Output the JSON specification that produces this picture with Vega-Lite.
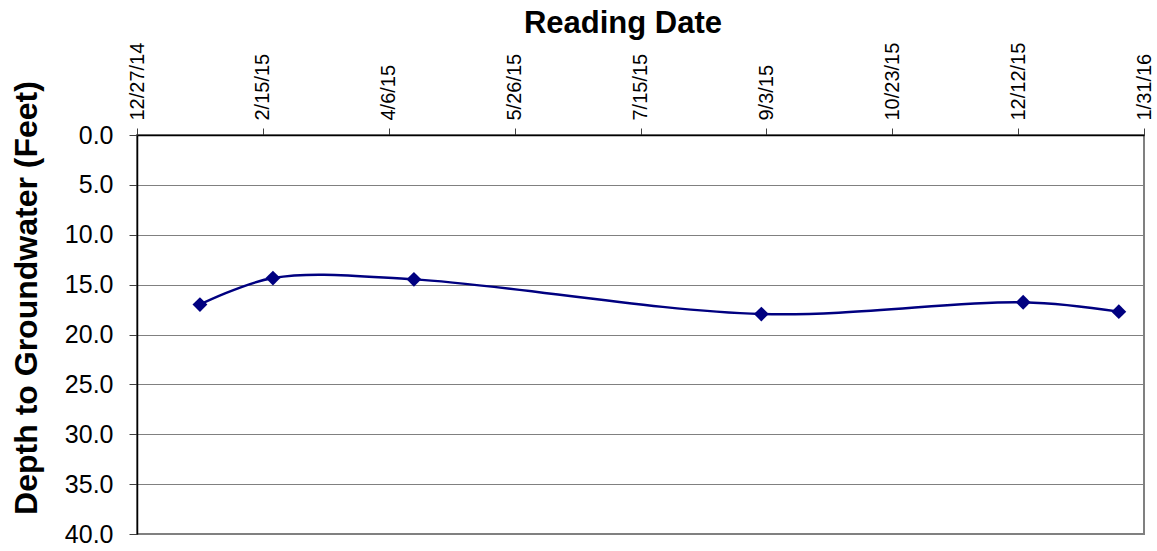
{
  "$schema": "https://vega.github.io/schema/vega-lite/v6.json",
  "width": 1007,
  "height": 399,
  "autosize": {"type": "none"},
  "padding": {"left": 137, "top": 135, "right": 13, "bottom": 17},
  "background": "white",
  "config": {
    "font": "Liberation Sans",
    "view": {"stroke": "#808080", "strokeWidth": 2},
    "axis": {"labelFont": "Liberation Sans", "titleFont": "Liberation Sans", "labelColor": "black", "titleColor": "black"}
  },
  "data": {
    "values": [
      {"date": "2015/01/21", "depth": 17.0},
      {"date": "2015/02/19", "depth": 14.34},
      {"date": "2015/04/16", "depth": 14.47},
      {"date": "2015/09/01", "depth": 17.95},
      {"date": "2015/12/14", "depth": 16.77},
      {"date": "2016/01/21", "depth": 17.71}
    ]
  },
  "encoding": {
    "x": {
      "field": "date",
      "type": "temporal",
      "scale": {"domain": [{"year": 2014, "month": 12, "date": 27}, {"year": 2016, "month": 1, "date": 31}], "nice": false},
      "axis": {
        "orient": "top",
        "title": "Reading Date",
        "titleFontSize": 31,
        "titleFontWeight": "bold",
        "titleX": 485.5,
        "titleY": -102.5,
        "titleAlign": "center",
        "titleAnchor": null,
        "titleBaseline": "alphabetic",
        "values": [
          {"year": 2014, "month": 12, "date": 27},
          {"year": 2015, "month": 2, "date": 15},
          {"year": 2015, "month": 4, "date": 6},
          {"year": 2015, "month": 5, "date": 26},
          {"year": 2015, "month": 7, "date": 15},
          {"year": 2015, "month": 9, "date": 3},
          {"year": 2015, "month": 10, "date": 23},
          {"year": 2015, "month": 12, "date": 12},
          {"year": 2016, "month": 1, "date": 31}
        ],
        "format": "%-m/%-d/%y",
        "labelAngle": -90,
        "labelFontSize": 20,
        "labelPadding": 8,
        "labelOverlap": false,
        "labelFlush": false,
        "tickSize": 7,
        "tickColor": "#404040",
        "tickWidth": 1,
        "domainColor": "black",
        "domainWidth": 1.5,
        "grid": false
      }
    },
    "y": {
      "field": "depth",
      "type": "quantitative",
      "scale": {"domain": [0, 40], "reverse": true, "nice": false, "zero": false},
      "axis": {
        "title": "Depth to Groundwater (Feet)",
        "titleFontSize": 32,
        "titleFontWeight": "bold",
        "titleAngle": -90,
        "titleX": -100.3,
        "titleY": 162.5,
        "titleAlign": "center",
        "titleAnchor": null,
        "titleBaseline": "alphabetic",
        "values": [0, 5, 10, 15, 20, 25, 30, 35, 40],
        "format": ".1f",
        "labelFontSize": 25,
        "labelPadding": 16,
        "labelFlush": false,
        "labelOverlap": false,
        "tickSize": 8,
        "tickColor": "#404040",
        "tickWidth": 1,
        "domainColor": "black",
        "domainWidth": 1.5,
        "grid": true,
        "gridColor": "#808080",
        "gridWidth": 1
      }
    }
  },
  "layer": [
    {"mark": {"type": "line", "interpolate": "catmull-rom", "color": "#000080", "strokeWidth": 2.4}},
    {"mark": {"type": "point", "shape": "diamond", "filled": true, "size": 220, "color": "#000080", "opacity": 1}}
  ]
}
